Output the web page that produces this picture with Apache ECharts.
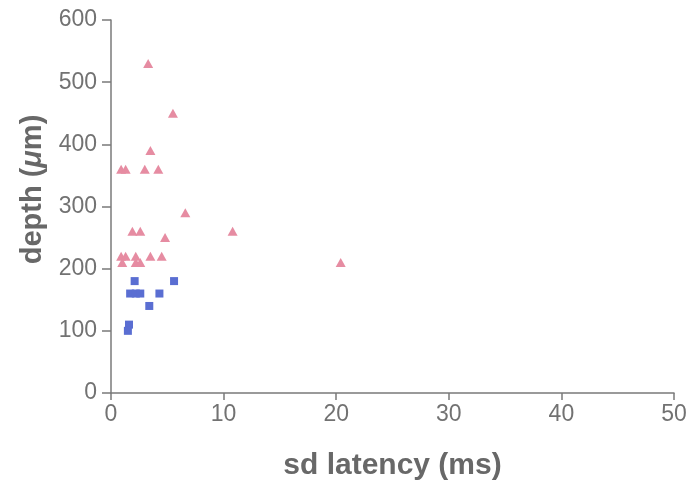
<!DOCTYPE html>
<html>
<head>
<meta charset="utf-8">
<script src="https://cdn.jsdelivr.net/npm/echarts@6/dist/echarts.min.js"></script>
<style>
  html, body { margin: 0; padding: 0; background: #ffffff; }
  #chart { width: 691px; height: 486px; }
</style>
</head>
<body>
<div id="chart"></div>
<script>
// Deeper units (pink triangles): sd latency (ms) and depth (µm)
const deepLatency = [3.3, 5.5, 3.5, 0.9, 1.3, 3.0, 4.2, 6.6, 10.8, 1.9, 2.6, 4.8,
                     0.9, 1.3, 2.2, 3.5, 4.5, 1.0, 2.2, 2.6, 20.4];
const deepDepth   = [530, 450, 390, 360, 360, 360, 360, 290, 260, 260, 260, 250,
                     220, 220, 220, 220, 220, 210, 210, 210, 210];

// Shallower units (blue squares)
const shallowLatency = [2.1, 5.6, 1.7, 2.2, 2.6, 4.3, 3.4, 1.6, 1.5];
const shallowDepth   = [180, 180, 160, 160, 160, 160, 140, 110, 100];

const xTicks = [0, 10, 20, 30, 40, 50];
const yTicks = [0, 100, 200, 300, 400, 500, 600];

const zip = (xs, ys) => xs.map((x, i) => [x, ys[i]]);

const axisGrey = '#7a7a7a';
const labelGrey = '#727272';
const titleGrey = '#686868';
const fontFam = '"Liberation Sans", Arial, Helvetica, sans-serif';

const chart = echarts.init(document.getElementById('chart'), null, { renderer: 'canvas' });

chart.setOption({
  animation: false,
  backgroundColor: '#ffffff',
  grid: { left: 111, right: 17, top: 20, bottom: 92, containLabel: false },
  xAxis: {
    type: 'value',
    min: xTicks[0],
    max: xTicks[xTicks.length - 1],
    interval: 10,
    name: 'sd latency (ms)',
    nameLocation: 'middle',
    nameGap: 58,
    nameTextStyle: { fontFamily: fontFam, fontSize: 30, fontWeight: 'bold', color: titleGrey },
    axisLine: { show: true, onZero: false, lineStyle: { color: axisGrey, width: 1.5 } },
    axisTick: { show: true, inside: false, length: 7, lineStyle: { color: axisGrey, width: 1.5 } },
    axisLabel: { margin: 10, fontFamily: fontFam, fontSize: 23, color: labelGrey },
    splitLine: { show: false }
  },
  yAxis: {
    type: 'value',
    min: yTicks[0],
    max: yTicks[yTicks.length - 1],
    interval: 100,
    name: '{n|depth (}{i|μ}{n|m)}',
    nameLocation: 'middle',
    nameGap: 56,
    nameRotate: 90,
    nameTextStyle: {
      fontFamily: fontFam, fontSize: 29, fontWeight: 'bold', color: titleGrey,
      padding: [0, 0, 0, 34],
      rich: {
        n: { fontFamily: fontFam, fontSize: 29, fontWeight: 'bold', color: titleGrey },
        i: { fontFamily: fontFam, fontSize: 29, fontWeight: 'bold', fontStyle: 'italic', color: titleGrey }
      }
    },
    axisLine: { show: true, onZero: false, lineStyle: { color: axisGrey, width: 1.5 } },
    axisTick: { show: true, inside: false, length: 9, lineStyle: { color: axisGrey, width: 1.5 } },
    axisLabel: { margin: 14, fontFamily: fontFam, fontSize: 23, color: labelGrey },
    splitLine: { show: false }
  },
  series: [
    {
      type: 'scatter',
      name: 'deep',
      symbol: 'triangle',
      symbolSize: [10, 9],
      itemStyle: { color: '#e68ca2', opacity: 1 },
      data: zip(deepLatency, deepDepth)
    },
    {
      type: 'scatter',
      name: 'shallow',
      symbol: 'rect',
      symbolSize: 8,
      itemStyle: { color: '#5a6ed2', opacity: 1 },
      data: zip(shallowLatency, shallowDepth)
    }
  ]
});
</script>
</body>
</html>
